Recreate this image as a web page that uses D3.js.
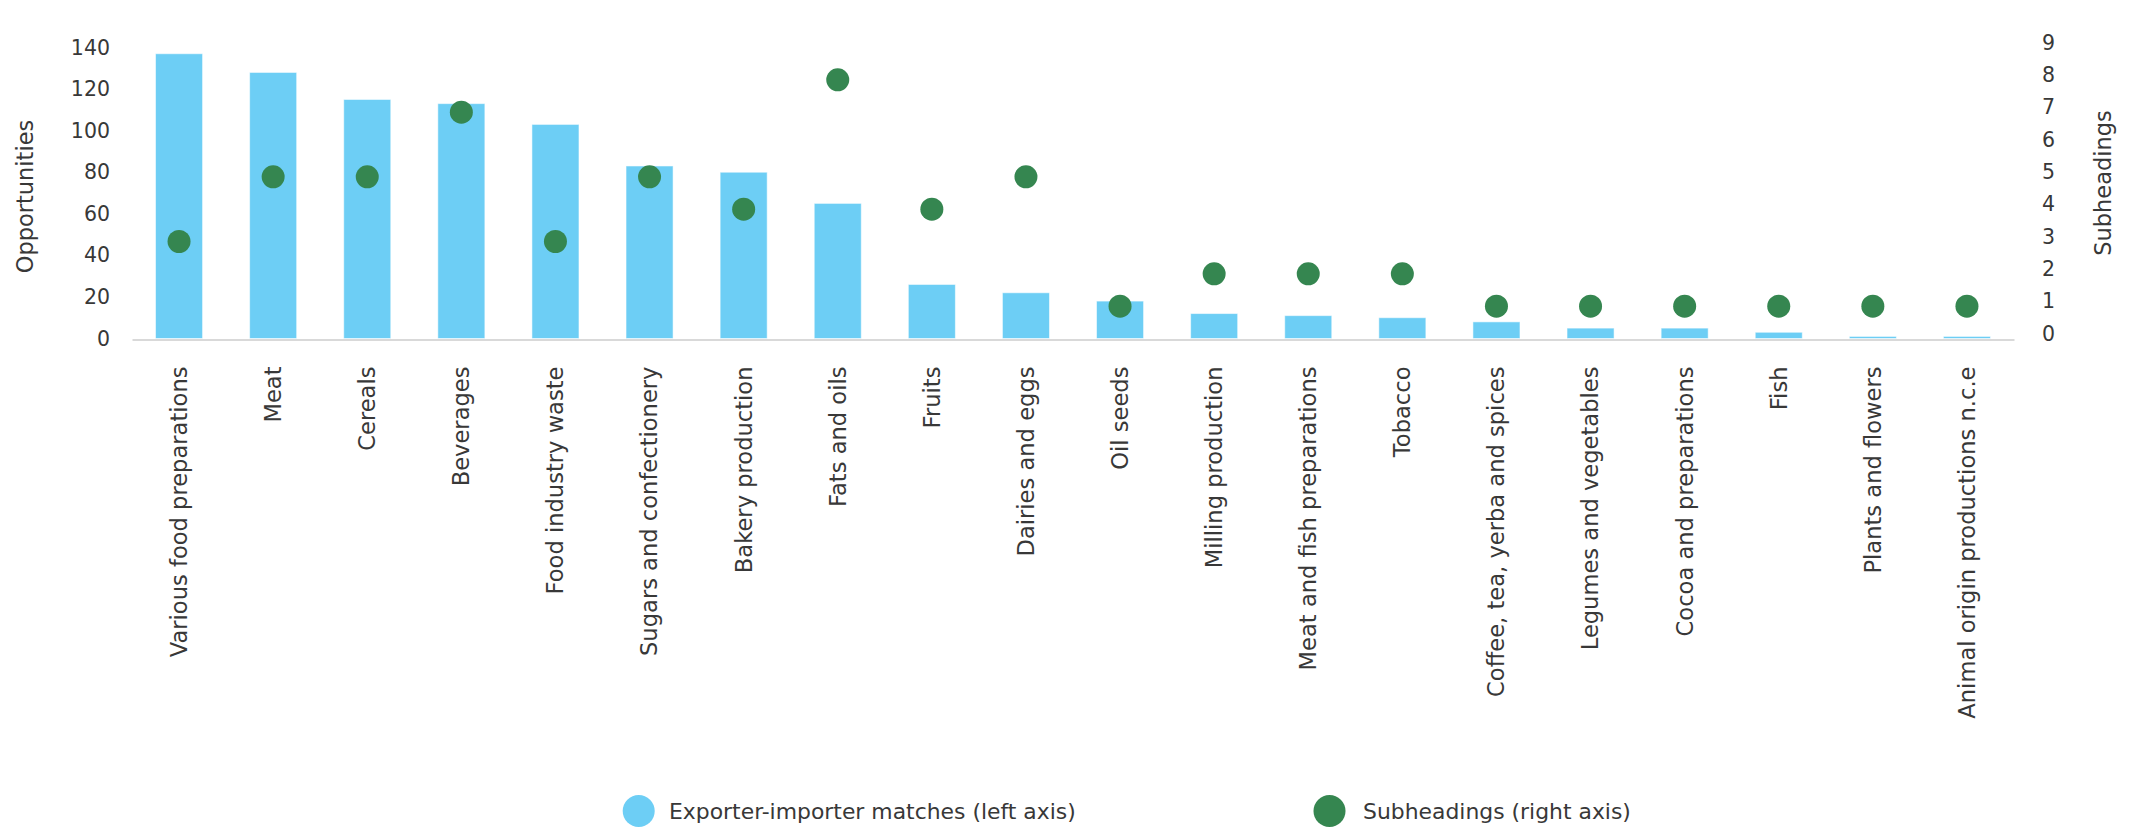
<!DOCTYPE html>
<html>
<head>
<meta charset="utf-8">
<script src="https://cdn.jsdelivr.net/npm/d3@7"></script>
<style>
  html, body { margin: 0; padding: 0; background: #ffffff; }
  svg { display: block; }
  text { font-family: "DejaVu Sans", "Noto Sans", sans-serif; fill: #383838; }
</style>
</head>
<body>
<svg id="chart" width="2136" height="832"></svg>
<script>
// Product groups, ordered by number of exporter-importer matches
const categories = [
  "Various food preparations", "Meat", "Cereals", "Beverages", "Food industry waste",
  "Sugars and confectionery", "Bakery production", "Fats and oils", "Fruits",
  "Dairies and eggs", "Oil seeds", "Milling production", "Meat and fish preparations",
  "Tobacco", "Coffee, tea, yerba and spices", "Legumes and vegetables",
  "Cocoa and preparations", "Fish", "Plants and flowers", "Animal origin productions n.c.e"
];

// Exporter-importer matches (left axis)
const matches = [137, 128, 115, 113, 103, 83, 80, 65, 26, 22, 18, 12, 11, 10, 8, 5, 5, 3, 1, 1];

// Number of subheadings (right axis)
const subheadings = [3, 5, 5, 7, 3, 5, 4, 8, 4, 5, 1, 2, 2, 2, 1, 1, 1, 1, 1, 1];

const leftTicks = [0, 20, 40, 60, 80, 100, 120, 140];
const rightTicks = [0, 1, 2, 3, 4, 5, 6, 7, 8, 9];

const legendItems = ["Exporter-importer matches (left axis)", "Subheadings (right axis)"];
const leftTitle = "Opportunities";
const rightTitle = "Subheadings";

const barColor = "#6dcef5";
const dotColor = "#358650";

const svg = d3.select("#chart");

const plotLeft = 132, plotRight = 2014, plotTop = 47.5, plotBottom = 338.5;

const x = d3.scaleBand()
  .domain(categories)
  .range([plotLeft, plotRight])
  .paddingInner(0.5)
  .paddingOuter(0.25);

const y = d3.scaleLinear().domain([0, 140]).range([plotBottom, plotTop]);
const y2 = d3.scaleLinear().domain([0, 9]).range([plotBottom, plotTop]);

// Bars
svg.append("g")
  .selectAll("rect")
  .data(categories)
  .join("rect")
  .attr("x", d => x(d))
  .attr("width", x.bandwidth())
  .attr("y", (d, i) => y(matches[i]))
  .attr("height", (d, i) => y(0) - y(matches[i]))
  .attr("fill", barColor)
  .attr("stroke", "rgba(255,255,255,0.55)")
  .attr("stroke-width", 1);

// Category axis
const xAxis = svg.append("g")
  .attr("transform", `translate(0,${plotBottom + 1})`)
  .call(d3.axisBottom(x).tickSize(0).tickSizeOuter(0));
xAxis.select(".domain").attr("stroke", "#d9d9d9").attr("stroke-width", 2);
xAxis.selectAll(".tick text")
  .attr("transform", "rotate(-90)")
  .attr("x", -27)
  .attr("y", 0)
  .attr("dy", "0.35em")
  .style("text-anchor", "end")
  .style("font-size", "22.6px")
  .style("font-family", null);

// Left axis
const yAxis = svg.append("g")
  .attr("transform", `translate(${plotLeft},0)`)
  .call(d3.axisLeft(y).tickValues(leftTicks).tickSize(0).tickPadding(22));
yAxis.select(".domain").remove();
yAxis.selectAll(".tick text").style("font-size", "20.5px").style("font-family", null);

// Right axis
const y2Axis = svg.append("g")
  .attr("transform", `translate(${plotRight},0)`)
  .call(d3.axisRight(y2).tickValues(rightTicks).tickSize(0).tickPadding(28));
y2Axis.select(".domain").remove();
y2Axis.selectAll(".tick text")
  .attr("dy", "0.08em")
  .style("font-size", "20.5px")
  .style("font-family", null);

// Dots
svg.append("g")
  .selectAll("circle")
  .data(categories)
  .join("circle")
  .attr("cx", d => x(d) + x.bandwidth() / 2)
  .attr("cy", (d, i) => y2(subheadings[i]))
  .attr("r", 11.5)
  .attr("fill", dotColor);

// Axis titles
svg.append("text")
  .attr("transform", "translate(25,196.5) rotate(-90)")
  .attr("text-anchor", "middle")
  .attr("dy", "0.35em")
  .style("font-size", "22.5px")
  .text(leftTitle);

svg.append("text")
  .attr("transform", "translate(2103,183) rotate(-90)")
  .attr("text-anchor", "middle")
  .attr("dy", "0.35em")
  .style("font-size", "22.5px")
  .text(rightTitle);

// Legend
const legendPos = [{cx: 638.7, tx: 669}, {cx: 1329.5, tx: 1363}];
const legendColors = [barColor, dotColor];
const legend = svg.append("g");
legendItems.forEach((label, i) => {
  legend.append("circle")
    .attr("cx", legendPos[i].cx)
    .attr("cy", 811)
    .attr("r", 16)
    .attr("fill", legendColors[i]);
  legend.append("text")
    .attr("x", legendPos[i].tx)
    .attr("y", 811)
    .attr("dy", "0.35em")
    .style("font-size", "21.9px")
    .text(label);
});
</script>
</body>
</html>
